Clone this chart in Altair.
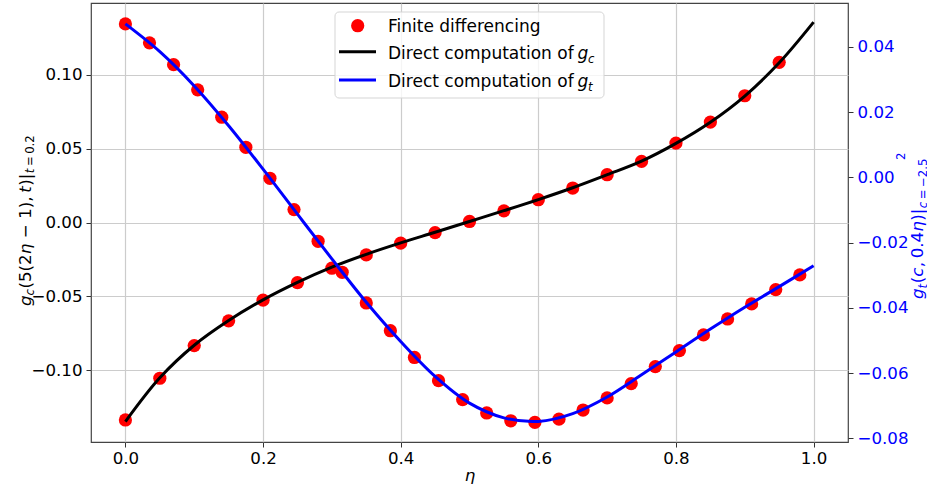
import altair as alt
import pandas as pd

# ---------------- data ----------------
eta_line = [0.00, 0.05, 0.10, 0.15, 0.20, 0.25, 0.30, 0.35, 0.40, 0.45, 0.50,
            0.55, 0.60, 0.65, 0.70, 0.75, 0.80, 0.85, 0.90, 0.95, 1.00]
gc_line = [-0.1346, -0.1050, -0.0830, -0.0663, -0.0523, -0.0405, -0.0302, -0.0215,
           -0.0138, -0.0066, 0.0007, 0.0080, 0.0155, 0.0235, 0.0323, 0.0415,
           0.0535, 0.0678, 0.0855, 0.1080, 0.1355]
gt_line = [0.0470, 0.0385, 0.0280, 0.0158, 0.0025, -0.0113, -0.0250, -0.0383,
           -0.0503, -0.0610, -0.0692, -0.0737, -0.0748, -0.0724, -0.0673, -0.0605,
           -0.0535, -0.0465, -0.0398, -0.0335, -0.0271]

eta_fd_c = [0.00, 0.05, 0.10, 0.15, 0.20, 0.25, 0.30, 0.35, 0.40, 0.45,
            0.50, 0.55, 0.60, 0.65, 0.70, 0.75, 0.80, 0.85, 0.90, 0.95]
gc_fd = [-0.1335, -0.1053, -0.0832, -0.0665, -0.0525, -0.0406, -0.0309, -0.0219,
         -0.0139, -0.0068, 0.0007, 0.0079, 0.0154, 0.0233, 0.0323, 0.0413,
         0.0537, 0.0679, 0.0857, 0.1083]

eta_fd_t = [0.000, 0.035, 0.070, 0.105, 0.140, 0.175, 0.210, 0.245, 0.280, 0.315,
            0.350, 0.385, 0.420, 0.455, 0.490, 0.525, 0.560, 0.595, 0.630, 0.665,
            0.700, 0.735, 0.770, 0.805, 0.840, 0.875, 0.910, 0.945, 0.980]
gt_fd = [0.0470, 0.0412, 0.0345, 0.0268, 0.0184, 0.0092, -0.0003, -0.0099, -0.0196,
         -0.0291, -0.0385, -0.0470, -0.0552, -0.0623, -0.0681, -0.0722, -0.0746,
         -0.0751, -0.0741, -0.0713, -0.0676, -0.0632, -0.0580, -0.0531, -0.0483,
         -0.0434, -0.0388, -0.0344, -0.0299]

x_ticks = [0.0, 0.2, 0.4, 0.6, 0.8, 1.0]
yl_ticks = [-0.10, -0.05, 0.00, 0.05, 0.10]
yr_ticks = [-0.08, -0.06, -0.04, -0.02, 0.00, 0.02, 0.04]

legend_labels = ["Finite differencing", "Direct computation of", "Direct computation of"]

# title pieces: (text, italic, subscript, extra gap after in px)
left_title = [("g", True, False, 0), ("c", True, True, 0.5), ("(5(2", False, False, 0),
              ("η", True, False, 5.5), ("−", False, False, 5.5), ("1),", False, False, 3.5),
              ("t", True, False, 0.5), (")|", False, False, 0.5), ("t", True, True, 2.5),
              ("=", False, True, 2.5), ("0.2", False, True, 0)]
right_title = [("g", True, False, 0), ("t", True, True, 0.5), ("(", False, False, 0),
               ("c", True, False, 0.5), (",", False, False, 3.5), ("0.4", False, False, 0),
               ("η", True, False, 0.5), (")|", False, False, 0.5), ("c", True, True, 2.5),
               ("=", False, True, 2.5), ("−2.5", False, True, 0)]

# ---------------- layout ----------------
CW, CH = 927, 489
L, T, R, B = 91, 3, 848, 442
W, H = R - L, B - T
FONT = "DejaVu Sans"
FS = 16.67
LFS = 17
SUB = 11.67
GRID = "#cccccc"

EM = {'g': 0.635, 'c': 0.550, 't': 0.392, '(': 0.390, ')': 0.390, '5': 0.636,
      '2': 0.636, '1': 0.636, '0': 0.636, '4': 0.636, 'η': 0.634, ' ': 0.318,
      '−': 0.838, ',': 0.318, '|': 0.337, '=': 0.838, '.': 0.318}


def text_w(s, size):
    return sum(EM.get(ch, 0.6) for ch in s) * size


one = pd.DataFrame({"d": [0]})


def txt(s, x, y, size=FS, italic=False, color="black", angle=0, align="left"):
    return alt.Chart(one).mark_text(
        text=s, fontSize=size, font=FONT,
        fontStyle="italic" if italic else "normal",
        color=color, angle=angle, align=align, baseline="alphabetic"
    ).encode(x=alt.value(x - L), y=alt.value(y - T))


def rot_chain(pieces, x_base, y_start, color, drop=3.6):
    out = []
    y = y_start
    for s, it, sub, gap in pieces:
        size = SUB if sub else FS
        out.append(txt(s, x_base + (drop if sub else 0), y, size=size, italic=it,
                       color=color, angle=270))
        y -= text_w(s, size) + gap
    return out


# ---------------- scales / axes ----------------
xscale = alt.Scale(domain=[-0.05, 1.05], nice=False, zero=False)
ylscale = alt.Scale(domain=[-0.1484, 0.1484], nice=False, zero=False)
yrscale = alt.Scale(domain=[-0.0811, 0.0534], nice=False, zero=False)

common_axis = dict(title=None, domain=False, tickSize=5, tickColor="#333333",
                   tickWidth=1, labelFontSize=FS, labelFont=FONT,
                   labelFlush=False, labelOverlap=False, labelBound=False)

xaxis = alt.Axis(values=x_ticks, format=".1f", grid=True, gridColor=GRID,
                 gridWidth=1.2, labelPadding=3, labelColor="black", **common_axis)
ylaxis = alt.Axis(values=yl_ticks, format=".2f", grid=True, gridColor=GRID,
                  gridWidth=1.2, labelPadding=4, labelColor="black", orient="left",
                  **common_axis)
yraxis = alt.Axis(values=yr_ticks, format=".2f", grid=False, labelPadding=4,
                  labelColor="blue", orient="right", **common_axis)

df_cl = pd.DataFrame({"eta": eta_line, "gc": gc_line})
df_tl = pd.DataFrame({"eta": eta_line, "gt": gt_line})
df_cf = pd.DataFrame({"eta": eta_fd_c, "gc": gc_fd})
df_tf = pd.DataFrame({"eta": eta_fd_t, "gt": gt_fd})

X = alt.X("eta:Q", scale=xscale, axis=xaxis)
YL = alt.Y("gc:Q", scale=ylscale, axis=ylaxis)
YR = alt.Y("gt:Q", scale=yrscale, axis=yraxis)

DOT = 175

pts_c = alt.Chart(df_cf).mark_circle(color="red", size=DOT, opacity=1).encode(x=X, y=YL)
line_c = alt.Chart(df_cl).mark_line(color="black", strokeWidth=3,
                                    interpolate="catmull-rom").encode(x=X, y=YL)
pts_t = alt.Chart(df_tf).mark_circle(color="red", size=DOT, opacity=1).encode(x=X, y=YR)
line_t = alt.Chart(df_tl).mark_line(color="blue", strokeWidth=3,
                                    interpolate="catmull-rom").encode(x=X, y=YR)

left = alt.layer(pts_c, line_c)
right = alt.layer(pts_t, line_t)

# ---------------- legend ----------------
leg = [
    alt.Chart(one).mark_rect(fill="white", fillOpacity=0.8, stroke="#d5d5d5",
                             strokeWidth=1, cornerRadius=4).encode(
        x=alt.value(335 - L), x2=alt.value(604 - L),
        y=alt.value(12 - T), y2=alt.value(98 - T)),
    alt.Chart(one).mark_circle(color="red", size=DOT, opacity=1).encode(
        x=alt.value(357.7 - L), y=alt.value(25.7 - T)),
    alt.Chart(one).mark_rule(color="black", strokeWidth=3).encode(
        x=alt.value(339 - L), x2=alt.value(376 - L), y=alt.value(51.7 - T)),
    alt.Chart(one).mark_rule(color="blue", strokeWidth=3).encode(
        x=alt.value(339 - L), x2=alt.value(376 - L), y=alt.value(80 - T)),
    txt(legend_labels[0], 388, 31.7, size=LFS),
    txt(legend_labels[1], 388, 59, size=LFS),
    txt("g", 577.5, 59, size=LFS, italic=True),
    txt("c", 588, 62.5, size=SUB, italic=True),
    txt(legend_labels[2], 388, 87.3, size=LFS),
    txt("g", 577.5, 87.3, size=LFS, italic=True),
    txt("t", 588, 91, size=SUB, italic=True),
]

titles = [txt("η", 470, 481, italic=True, align="center")]
titles += rot_chain(left_title, 30.5, 306, "black")
titles += rot_chain(right_title, 923, 299, "blue")
titles.append(txt("2", 905, 160, size=SUB, color="blue", angle=270))

chart = alt.layer(left, right, *leg, *titles).resolve_scale(
    y="independent"
).properties(
    width=W, height=H,
    padding={"left": L, "top": T, "right": CW - R, "bottom": CH - B},
    autosize=alt.AutoSizeParams(type="none"),
    background="white",
).configure_view(stroke="#444444", strokeWidth=1.2)

chart.save("out.html", embed_options={"renderer": "svg", "actions": False})
